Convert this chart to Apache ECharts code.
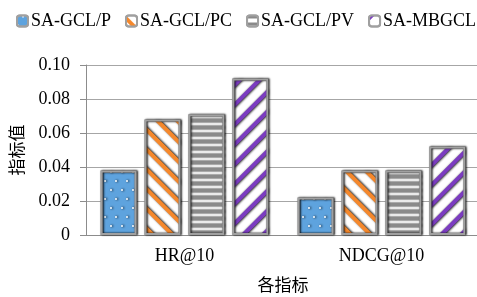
<!DOCTYPE html>
<html>
<head>
<meta charset="utf-8">
<script src="https://cdn.jsdelivr.net/npm/echarts@6/dist/echarts.min.js"></script>
<style>html,body{margin:0;padding:0;background:#fff}#c{width:477px;height:297px}</style>
</head>
<body>
<div id="c"></div>
<script>
const categories = ['HR@10', 'NDCG@10'];
const seriesNames = ['SA-GCL/P', 'SA-GCL/PC', 'SA-GCL/PV', 'SA-MBGCL'];
const valsP = [0.038, 0.022];
const valsPC = [0.068, 0.038];
const valsPV = [0.071, 0.038];
const valsMB = [0.092, 0.052];
const yTicks = ['0', '0.02', '0.04', '0.06', '0.08', '0.10'];

const serif = '"Liberation Serif","Times New Roman",serif';
const cjk = '"Noto Sans CJK SC",sans-serif';

const styles = [
  { color: '#5ea3de', decal: { symbol: 'circle', symbolSize: 1, color: '#ffffff', dashArrayX: [[2, 9], [0, 5, 2, 4]], dashArrayY: [2, 7] } },
  { color: '#ffffff', decal: { symbol: 'rect', symbolSize: 1, color: '#f5882c', dashArrayX: [1, 0], dashArrayY: [4, 10], rotation: Math.PI / 4 } },
  { color: '#ffffff', decal: { symbol: 'rect', symbolSize: 1, color: '#8a8a8a', dashArrayX: [1, 0], dashArrayY: [3, 3.6] } },
  { color: '#ffffff', decal: { symbol: 'rect', symbolSize: 1, color: '#7b3cc0', dashArrayX: [1, 0], dashArrayY: [4, 10], rotation: -Math.PI / 4 } }
];
const allVals = [valsP, valsPC, valsPV, valsMB];

const chart = echarts.init(document.getElementById('c'));
chart.setOption({
  animation: false,
  legend: {
    left: 11, top: 7, width: 470,
    itemWidth: 11, itemHeight: 11, itemGap: 14,
    textStyle: { fontFamily: serif, fontSize: 18, color: '#000', padding: [0, 0, 0, -2] },
    data: seriesNames
  },
  grid: { left: 86, top: 65, width: 394, bottom: 62, outerBoundsMode: 'none', containLabel: false },
  xAxis: {
    type: 'category', data: categories,
    axisLine: { lineStyle: { color: '#8c8c8c' } },
    axisTick: { length: 5, lineStyle: { color: '#8c8c8c' } },
    axisLabel: { fontFamily: serif, fontSize: 18, color: '#000', margin: 12 },
    name: '各指标', nameLocation: 'middle', nameGap: 41,
    nameTextStyle: { fontFamily: cjk, fontSize: 17, color: '#000' }
  },
  yAxis: {
    type: 'value', min: 0, max: 0.1, interval: 0.02,
    axisLine: { show: true, lineStyle: { color: '#8c8c8c' } },
    axisTick: { show: true, length: 6, lineStyle: { color: '#8c8c8c' } },
    splitLine: { lineStyle: { color: '#a6a6a6' } },
    axisLabel: { fontFamily: serif, fontSize: 18, color: '#000', margin: 16,
      formatter: (v) => yTicks[Math.round(v / 0.02)] },
    name: '指标值', nameLocation: 'middle', nameGap: 53,
    nameTextStyle: { fontFamily: cjk, fontSize: 17, color: '#000', padding: [0, 0, 8, 0] }
  },
  series: seriesNames.map((n, i) => ({
    name: n, type: 'bar', data: allVals[i],
    barWidth: 36, barGap: '22%',
    itemStyle: {
      color: styles[i].color, decal: styles[i].decal,
      borderColor: '#a0a0a0', borderWidth: 2,
      shadowColor: 'rgba(0,0,0,0.25)', shadowBlur: 2, shadowOffsetX: 1, shadowOffsetY: 0
    }
  }))
});
</script>
</body>
</html>
